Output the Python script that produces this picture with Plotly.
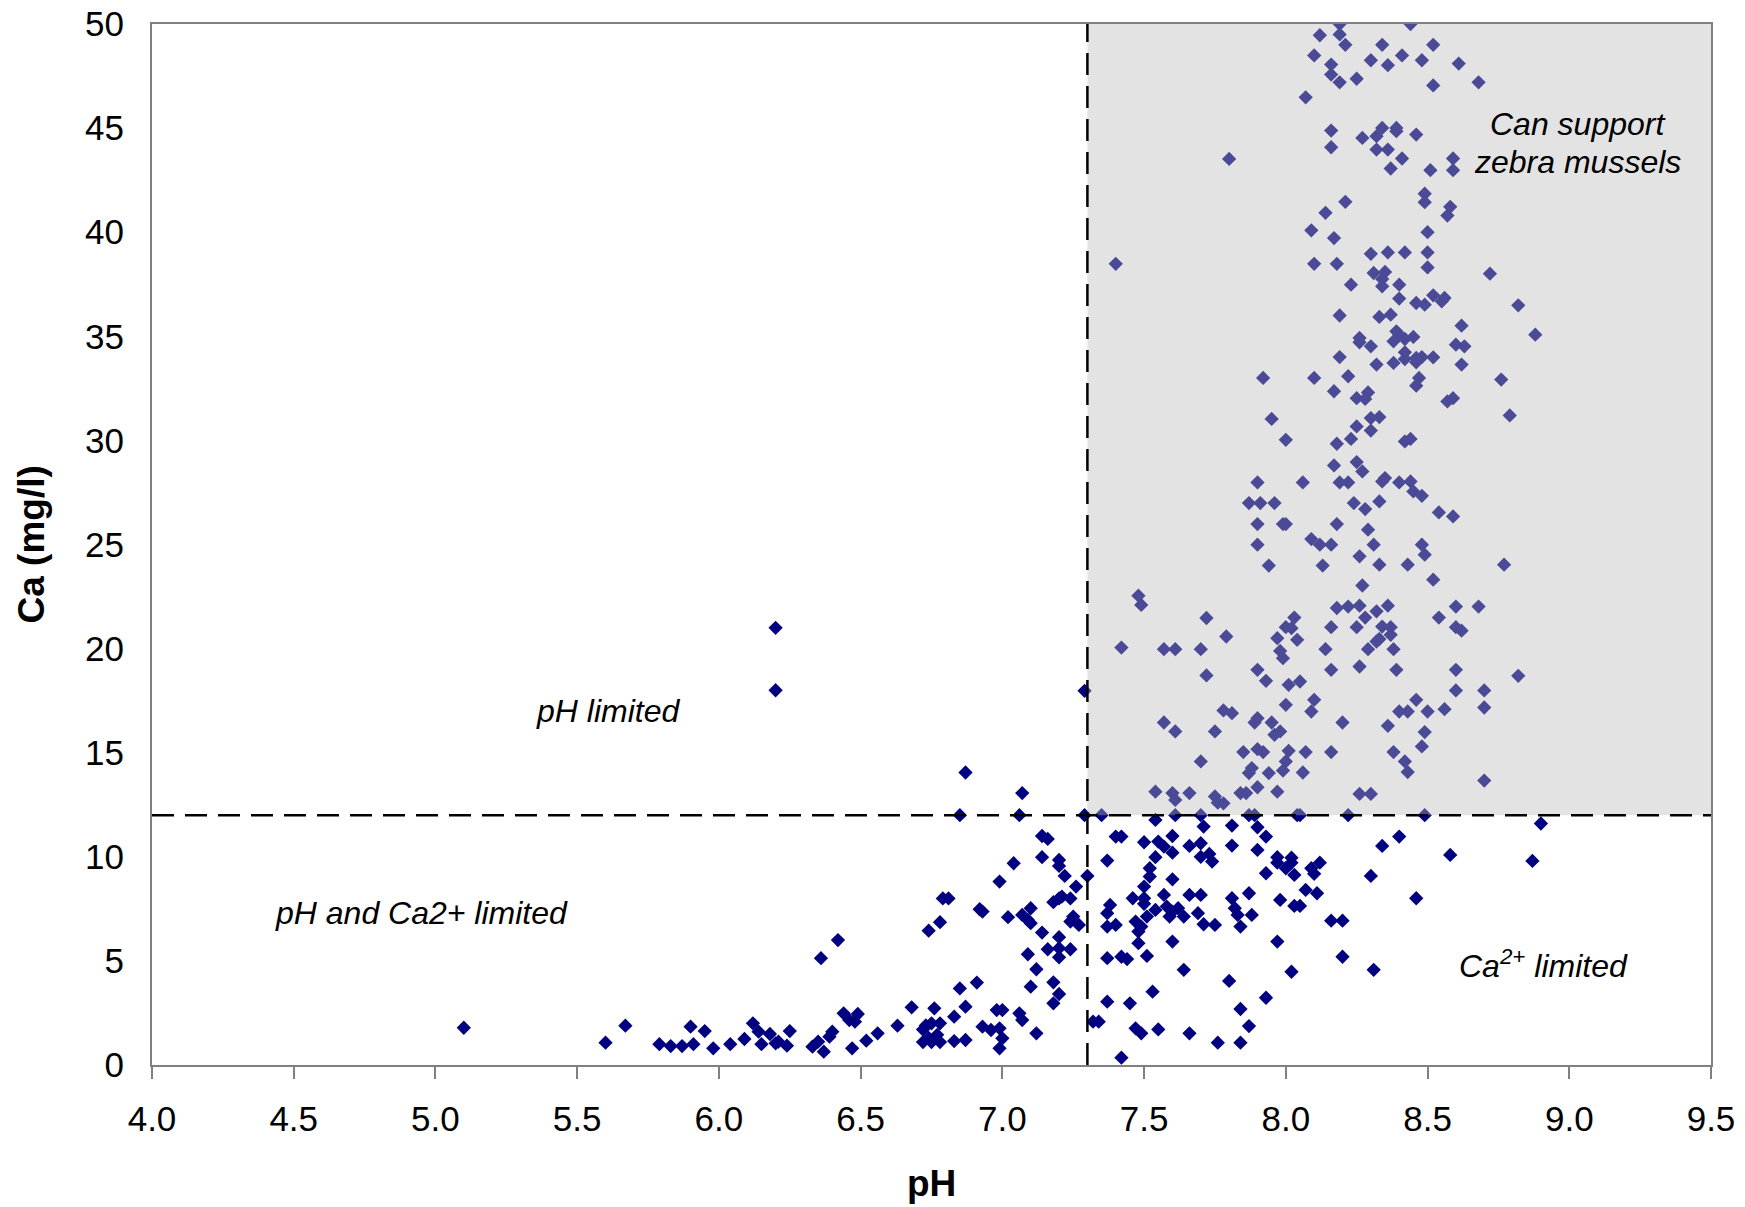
import plotly.graph_objects as go

# pH values (x) and Ca (mg/l) values (y)
ph = [
    5.10, 5.60, 5.67, 5.79, 5.83, 5.87, 5.91, 5.90, 5.95, 5.98, 6.04, 6.09, 6.12, 6.14, 6.15, 6.18,
    6.20, 6.21, 6.24, 6.25, 6.33, 6.35, 6.37, 6.39, 6.40, 6.36, 6.42, 6.20, 6.20,
    6.44, 6.46, 6.49, 6.48, 6.47, 6.52, 6.56, 6.63, 6.68, 6.72, 6.73, 6.75, 6.78, 6.74, 6.77, 6.72,
    6.75, 6.78, 6.76, 6.74, 6.78, 6.79, 6.81, 6.83, 6.83, 6.85, 6.87, 6.87, 6.91, 6.92, 6.93, 6.93,
    6.96, 6.99, 6.98, 7.00, 7.00, 6.99, 6.99, 7.04, 7.02, 7.06, 7.07, 7.12, 6.87, 6.85, 7.07, 7.06,
    7.29, 7.35, 7.14, 7.16, 7.14, 7.20, 7.20, 7.22, 7.26, 7.30, 7.37, 7.18, 7.20, 7.21, 7.24, 7.07,
    7.10, 7.09, 7.10, 7.25, 7.24, 7.27, 7.14, 7.20, 7.16, 7.20, 7.24, 7.20, 7.09, 7.12, 7.10, 7.18,
    7.20, 7.18, 7.37, 7.37, 7.37, 7.37, 7.32, 7.34,
    7.54, 7.60, 7.61, 7.66, 7.75, 7.76, 7.78, 7.84, 7.86, 7.90, 7.97,
    7.61, 7.70, 7.87, 7.89, 8.04, 8.05, 8.22,
    7.54, 7.71, 7.81, 7.90, 7.40, 7.42, 7.60, 7.50, 7.55, 7.57, 7.60, 7.66, 7.70, 7.70, 7.73, 7.74,
    7.81, 7.93, 7.90, 7.54, 7.97, 7.97, 8.02, 8.02, 8.00, 8.03, 7.93, 8.09, 8.10, 8.12, 7.52, 7.52,
    7.60, 7.50, 7.46, 7.50, 7.50, 7.57, 7.66, 7.70, 7.81, 7.87, 7.98, 8.07, 8.11, 8.03, 8.05, 7.38,
    7.54, 7.58, 7.60, 7.62, 7.59, 7.64, 7.51, 7.47, 7.49, 7.48, 7.69, 7.82, 7.83, 7.88, 7.71, 7.75,
    7.84, 7.40, 8.16, 8.20, 7.48, 7.60, 7.97, 7.42, 7.44, 7.51, 8.20, 7.64, 7.80, 8.02, 7.53, 7.45,
    7.84, 7.93, 7.87, 7.47, 7.49, 7.55, 7.66, 7.76, 7.84, 7.42,
    8.26, 8.30, 8.70, 8.49, 8.90, 8.40, 8.34, 8.58, 8.87, 8.30, 8.46, 8.31,
    8.12, 8.19, 8.21, 8.10, 8.16, 8.16, 8.19, 8.07, 8.16, 8.16, 7.80, 8.21, 8.14, 8.09, 8.17, 7.40,
    8.10, 8.18, 8.19, 8.19, 8.44,
    8.34, 8.52, 8.30, 8.36, 8.41, 8.48, 8.61, 8.25, 8.52, 8.68, 8.27, 8.32, 8.34, 8.39, 8.39, 8.46,
    8.32, 8.36, 8.41, 8.37, 8.51, 8.59, 8.59, 8.49, 8.49, 8.58, 8.57, 8.50, 8.30, 8.36, 8.42, 8.50,
    8.50, 8.31, 8.35, 8.34, 8.34, 8.72, 8.23, 8.40, 8.40, 8.46, 8.49, 8.52, 8.55, 8.56, 8.82, 8.33,
    8.37,
    8.62, 8.88, 8.26, 8.26, 8.30, 8.39, 8.40, 8.38, 8.42, 8.45, 8.60, 8.63, 8.32, 8.38, 8.42, 8.42,
    8.46, 8.46, 8.48, 8.52, 8.62, 8.22, 8.47, 8.46, 8.76, 8.25, 8.28, 8.29, 8.57, 8.59, 8.79, 8.30,
    8.33, 8.25, 8.30, 8.23, 8.42, 8.44, 8.25, 8.27, 8.22, 8.34, 8.35, 8.40, 8.44, 8.45, 8.48, 8.24,
    8.28, 8.33, 8.54, 8.59, 8.29, 8.31, 8.48, 8.26, 8.49,
    8.19, 7.92, 8.10, 8.17, 7.95, 8.00, 8.18, 8.17, 7.90, 8.06, 8.19, 7.87, 7.91, 7.96, 7.90, 7.99,
    8.00, 8.18, 7.90, 8.09, 8.12, 8.16,
    7.94, 8.13, 7.48, 7.49, 7.72, 8.03, 8.00, 8.02, 8.16, 7.79, 7.97, 8.04, 7.42, 7.57, 7.61, 7.70,
    8.14, 7.98, 7.99, 7.90, 8.16, 7.72, 7.93, 8.01, 8.05, 7.29, 8.00, 8.10, 8.09, 7.78, 7.81, 7.57,
    7.61, 7.75, 7.89, 7.90, 7.95, 7.96, 7.98, 7.85, 7.90, 7.92, 8.01, 8.07, 8.00, 7.99, 8.06, 8.16,
    7.70, 7.88, 7.87, 7.94,
    8.33, 8.43, 8.77, 8.52, 8.27, 8.18, 8.22, 8.26, 8.32, 8.36, 8.28, 8.25, 8.34, 8.37, 8.37, 8.33,
    8.32, 8.54, 8.60, 8.68, 8.60, 8.62, 8.29, 8.38, 8.26, 8.39, 8.60, 8.82, 8.60, 8.70, 8.46, 8.40,
    8.43, 8.50, 8.56, 8.70, 8.20, 8.36, 8.49, 8.38, 8.42, 8.43, 8.48,
]
ca = [
    1.79, 1.07, 1.89, 1.00, 0.91, 0.91, 1.00, 1.84, 1.63, 0.80, 1.00, 1.25, 2.00, 1.60, 1.00, 1.49,
    1.04, 1.12, 0.93, 1.63, 0.88, 1.12, 0.64, 1.36, 1.60, 5.13, 6.00, 21.0, 18.0,
    2.48, 2.16, 2.45, 2.08, 0.80, 1.17, 1.52, 1.89, 2.77, 1.70, 1.90, 2.00, 2.00, 1.30, 1.45, 1.10,
    1.10, 1.10, 2.72, 6.45, 6.86, 8.00, 8.00, 2.32, 1.15, 3.68, 1.20, 2.80, 3.96, 7.48, 7.37, 1.84,
    1.68, 1.76, 2.64, 2.64, 1.28, 0.80, 8.81, 9.69, 7.10, 2.48, 2.16, 1.52, 14.05, 12.0, 13.06, 12.0,
    12.0, 12.0, 11.0, 10.86, 9.98, 9.85, 9.56, 9.08, 8.57, 9.08, 9.82, 7.82, 8.00, 8.09, 8.00, 7.21,
    7.53, 6.97, 6.81, 7.13, 6.89, 6.73, 6.36, 6.14, 5.56, 5.61, 5.56, 5.17, 5.32, 4.60, 3.76, 3.97,
    3.41, 2.96, 7.29, 6.65, 5.13, 3.04, 2.08, 2.08,
    13.13, 13.06, 12.73, 13.06, 12.90, 12.60, 12.57, 13.06, 13.06, 13.34, 13.13,
    12.0, 12.0, 12.0, 12.0, 12.0, 12.0, 12.0,
    11.77, 11.45, 11.50, 11.42, 10.97, 10.97, 11.00, 10.70, 10.73, 10.49, 10.20, 10.52, 10.65, 10.00, 10.14, 9.77,
    10.54, 10.97, 10.33, 9.98, 9.98, 9.72, 9.96, 9.72, 9.45, 9.13, 9.21, 9.45, 9.18, 9.72, 9.45, 9.05,
    8.92, 8.57, 8.01, 8.01, 7.74, 8.17, 8.17, 8.17, 8.01, 8.25, 7.93, 8.41, 8.25, 7.64, 7.64, 7.69,
    7.45, 7.61, 7.37, 7.53, 7.13, 7.13, 7.13, 6.89, 6.65, 6.41, 7.29, 7.53, 7.21, 7.21, 6.76, 6.73,
    6.65, 6.73, 6.93, 6.93, 5.85, 5.93, 5.93, 5.20, 5.09, 5.24, 5.20, 4.57, 4.04, 4.48, 3.52, 2.96,
    2.69, 3.23, 1.87, 1.76, 1.52, 1.71, 1.52, 1.07, 1.07, 0.35,
    13.02, 13.02, 13.66, 12.0, 11.60, 10.97, 10.52, 10.09, 9.80, 9.08, 8.01, 4.57,
    49.46, 49.50, 49.00, 48.49, 48.05, 47.57, 47.20, 46.48, 44.88, 44.08, 43.52, 41.46, 40.93, 40.09, 39.72, 38.48,
    38.48, 38.48, 36.00, 50.0, 50.0,
    49.00, 49.00, 48.26, 48.02, 48.49, 48.26, 48.10, 47.37, 47.05, 47.20, 44.53, 44.61, 45.01, 45.01, 44.85, 44.69,
    43.97, 43.97, 43.54, 43.06, 42.98, 43.54, 42.98, 41.85, 41.44, 41.22, 40.80, 40.00, 38.96, 39.03, 39.03, 39.03,
    38.31, 38.04, 38.09, 37.75, 37.40, 38.01, 37.48, 37.48, 36.81, 36.60, 36.52, 36.97, 36.68, 36.84, 36.49, 35.93,
    36.04,
    35.51, 35.08, 34.92, 34.71, 34.52, 35.24, 35.08, 34.76, 34.87, 34.97, 34.60, 34.52, 33.64, 33.72, 34.23, 33.91,
    33.96, 33.75, 34.00, 33.99, 33.64, 33.08, 33.00, 32.63, 32.92, 32.03, 31.99, 32.30, 31.87, 32.03, 31.20, 31.07,
    31.12, 30.67, 30.47, 30.07, 29.95, 30.07, 28.96, 28.51, 27.98, 28.03, 28.19, 27.98, 28.03, 27.55, 27.34, 26.99,
    26.70, 27.07, 26.54, 26.35, 25.71, 24.99, 24.99, 24.43, 24.51,
    34.00, 33.00, 33.00, 32.36, 31.03, 30.03, 29.84, 28.80, 27.98, 27.98, 27.98, 26.99, 26.99, 26.99, 25.98, 25.98,
    25.98, 25.98, 24.99, 25.26, 24.99, 24.99,
    23.99, 23.99, 22.54, 22.10, 21.47, 21.49, 21.03, 20.98, 21.03, 20.58, 20.50, 20.42, 20.05, 19.97, 19.97, 19.97,
    19.97, 19.89, 19.54, 18.98, 18.98, 18.71, 18.45, 18.26, 18.42, 17.97, 17.30, 17.54, 16.98, 17.03, 16.90, 16.45,
    16.02, 16.02, 16.45, 16.66, 16.45, 15.86, 16.02, 15.03, 15.17, 15.03, 15.09, 15.03, 14.58, 14.14, 14.05, 15.03,
    14.58, 14.26, 14.02, 14.02,
    24.03, 24.03, 24.03, 23.31, 23.03, 21.95, 22.02, 22.06, 21.79, 22.06, 21.49, 21.03, 21.06, 21.03, 20.66, 20.46,
    20.34, 21.49, 22.02, 22.02, 21.03, 20.86, 19.97, 19.97, 19.14, 18.98, 18.98, 18.69, 17.99, 17.99, 17.54, 16.98,
    16.98, 16.98, 17.09, 17.17, 16.45, 16.29, 15.99, 15.03, 14.58, 14.07, 15.30,
]

# thresholds
ph_limit = 7.3
ca_limit = 12.0

# axis ticks
x_ticks = [4.0, 4.5, 5.0, 5.5, 6.0, 6.5, 7.0, 7.5, 8.0, 8.5, 9.0, 9.5]
y_ticks = [0, 5, 10, 15, 20, 25, 30, 35, 40, 45, 50]

FONT = "Liberation Sans, Arial, sans-serif"

fig = go.Figure()
fig.add_trace(go.Scatter(
    x=ph, y=ca, mode="markers",
    marker=dict(symbol="diamond", size=11, color="#000080", line=dict(width=0)),
    showlegend=False, hoverinfo="x+y",
))

dash_style = dict(color="black", width=2.5, dash="22px,11px")
shapes = [
    dict(type="rect", xref="x", yref="y", x0=ph_limit, x1=9.5, y0=ca_limit, y1=50,
         fillcolor="rgba(185,185,185,0.4)", line=dict(width=0), layer="above"),
    dict(type="line", xref="x", yref="y", x0=4.0, x1=9.5, y0=ca_limit, y1=ca_limit,
         line=dash_style, layer="above"),
    dict(type="line", xref="x", yref="y", x0=ph_limit, x1=ph_limit, y0=0, y1=50,
         line=dash_style, layer="above"),
]

ann_font = dict(family=FONT, size=32, color="black")
title_font = dict(family=FONT, size=37, color="black")
annotations = [
    dict(x=5.61, y=17.0, text="<i>pH limited</i>", showarrow=False, font=ann_font),
    dict(x=4.95, y=7.3, text="<i>pH and Ca2+ limited</i>", showarrow=False, font=ann_font),
    dict(x=8.91, y=4.86, text="<i>Ca<sup>2+</sup> limited</i>", showarrow=False, font=ann_font),
    dict(x=9.03, y=45.2, text="<i>Can support</i>", showarrow=False, font=ann_font),
    dict(x=9.03, y=43.35, text="<i>zebra mussels</i>", showarrow=False, font=ann_font),
    # axis titles
    dict(xref="paper", yref="paper", x=0.5, y=0, yanchor="middle", yshift=-118,
         text="<b>pH</b>", showarrow=False, font=title_font),
    dict(xref="paper", yref="paper", x=0, y=0.5, xanchor="center", xshift=-121,
         text="<b>Ca (mg/l)</b>", textangle=-90, showarrow=False, font=title_font),
]

fig.update_layout(
    width=1745, height=1207,
    margin=dict(l=152, r=34, t=24, b=142),
    paper_bgcolor="white", plot_bgcolor="white",
    font=dict(family=FONT, color="black"),
    shapes=shapes, annotations=annotations,
    xaxis=dict(
        range=[4.0, 9.5], tickvals=x_ticks, ticktext=[f"{v:.1f}" for v in x_ticks],
        ticks="outside", ticklen=12, tickcolor="#808080", tickwidth=1.5,
        showline=True, linecolor="#808080", linewidth=2, mirror=True,
        showgrid=False, zeroline=False, automargin=False,
        tickfont=dict(family=FONT, size=35, color="black"),
        ticklabelstandoff=10,
    ),
    yaxis=dict(
        range=[0, 50], tickvals=y_ticks,
        ticks="", showline=True, linecolor="#808080", linewidth=2, mirror=True,
        showgrid=False, zeroline=False, automargin=False,
        tickfont=dict(family=FONT, size=35, color="black"),
        ticklabelstandoff=19,
    ),
)

fig.write_html("out.html", config={"displayModeBar": False},
               post_script="document.body.style.margin='0';")
